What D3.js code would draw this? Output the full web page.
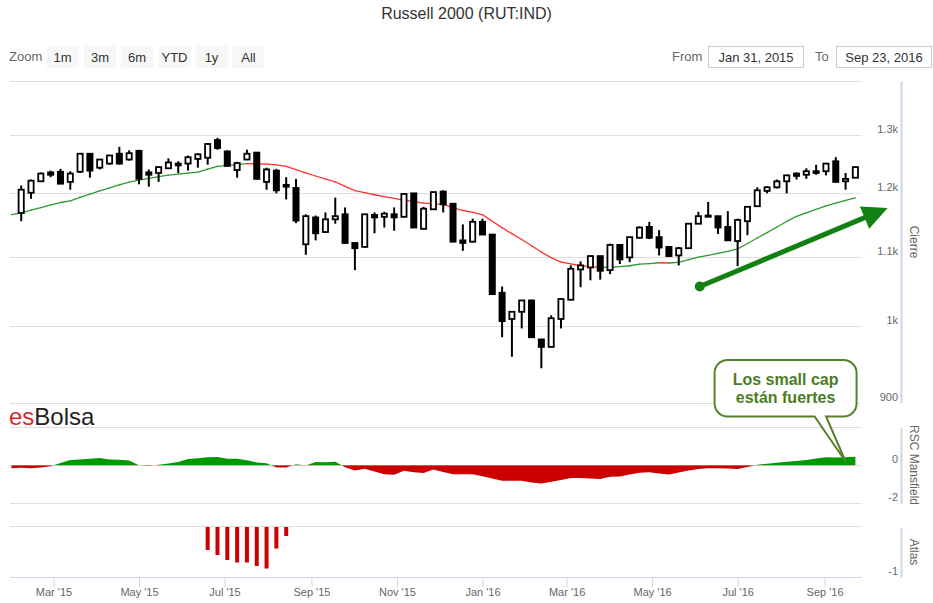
<!DOCTYPE html>
<html>
<head>
<meta charset="utf-8">
<script src="https://cdn.jsdelivr.net/npm/d3@7"></script>
<style>
  body { margin: 0; background: #fff; }
  svg { font-family: "Liberation Sans", Arial, sans-serif; }
</style>
</head>
<body>
<svg width="933" height="603"></svg>
<script>
// weekly candles (Fridays), Jan 30 2015 .. Sep 23 2016; index 0 only feeds the MA and RSC
const weeks = d3.timeFriday.range(new Date(2015, 0, 30), new Date(2016, 8, 24));
const candleDates = weeks.slice(1);

const open = [1168,1201,1220,1235,1236,1219,1236,1267,1243,1250,
  1267,1257,1272,1235,1234,1242,1250,1250,1258,1260,
  1291,1271,1239,1257,1269,1219,1238,1214,1209,1119,
  1161,1138,1158,1166,1121,1115,1165,1162,1166,1162,
  1200,1143,1174,1203,1183,1125,1123,1154,1134,1047,
  1010,1020,1036,982,972,1010,1037,1081,1084,1101,
  1080,1118,1099,1129,1146,1130,1115,1102,1113,1151,
  1164,1163,1146,1124,1155,1179,1204,1210,1220,1233,
  1231,1237,1237,1254,1220,1226];
const high = [1213,1223,1235,1238,1241,1237,1268,1268,1258,1265,
  1279,1273,1274,1240,1245,1259,1254,1264,1268,1286,
  1295,1273,1253,1274,1269,1243,1241,1227,1224,1166,
  1164,1169,1193,1177,1121,1166,1169,1170,1177,1200,
  1200,1178,1203,1205,1183,1150,1159,1159,1134,1056,
  1020,1036,1037,982,1015,1039,1087,1093,1102,1101,
  1120,1118,1130,1147,1154,1141,1115,1115,1152,1170,
  1186,1163,1171,1159,1178,1210,1212,1223,1231,1235,
  1242,1248,1250,1261,1234,1245];
const low = [1155,1191,1219,1227,1216,1206,1234,1226,1240,1248,
  1248,1255,1215,1211,1219,1241,1234,1238,1243,1248,
  1274,1245,1226,1256,1224,1206,1200,1190,1152,1103,
  1125,1137,1151,1120,1080,1114,1136,1145,1140,1161,
  1145,1142,1173,1169,1122,1109,1122,1134,1044,985,
  959,997,985,944,972,997,1037,1055,1065,1066,
  1074,1089,1092,1128,1127,1102,1101,1087,1112,1151,
  1162,1135,1125,1086,1133,1178,1200,1208,1200,1223,
  1224,1231,1230,1218,1206,1226];
const close = [1206,1221,1233,1231,1216,1233,1267,1238,1257,1264,
  1250,1268,1224,1231,1244,1252,1247,1261,1266,1284,
  1277,1246,1251,1267,1224,1240,1205,1211,1156,1163,
  1136,1158,1163,1121,1113,1166,1161,1167,1161,1199,
  1145,1175,1202,1182,1123,1121,1154,1134,1045,1007,
  1020,1036,985,972,1011,1038,1082,1087,1101,1079,
  1118,1096,1130,1145,1129,1114,1101,1113,1151,1163,
  1162,1145,1125,1157,1178,1205,1210,1220,1230,1229,
  1237,1234,1250,1219,1224,1244];

// 30-week moving average, one value per week (87)
const ma30 = [1165.4,1168.4,1172.6,1176.8,1181.0,1185.0,1187.6,1193.2,1198.7,1204.1,
  1209.1,1213.9,1218.8,1222.0,1224.9,1227.9,1230.4,1232.2,1233.9,1235.6,
  1240.4,1245.4,1247.0,1248.3,1249.9,1249.7,1249.2,1247.7,1245.2,1239.6,
  1234.2,1228.9,1224.0,1219.1,1211.5,1204.4,1201.1,1197.7,1194.6,1191.7,
  1188.9,1186.5,1184.1,1182.8,1182.1,1176.5,1172.1,1169.1,1165.5,1154.8,
  1144.8,1135.5,1126.4,1116.7,1107.1,1098.6,1091.9,1089.2,1086.5,1085.3,
  1084.1,1084.3,1085.2,1086.5,1088.8,1089.7,1091.0,1090.6,1091.5,1095.5,
  1099.4,1102.1,1105.0,1108.0,1112.0,1120.2,1128.6,1137.1,1145.8,1154.6,
  1162.6,1168.3,1173.9,1179.6,1184.0,1188.3,1192.5];

// RSC Mansfield, one value per week (87)
const rsc = [-0.15,-0.13,-0.16,-0.12,-0.05,0.12,0.28,0.31,0.34,0.39,
  0.31,0.29,0.25,0.0,-0.02,0.03,0.10,0.17,0.33,0.37,
  0.43,0.44,0.35,0.35,0.26,0.15,0.11,-0.11,-0.12,0.06,
  -0.01,0.17,0.16,0.19,-0.10,-0.27,-0.18,-0.33,-0.47,-0.50,
  -0.29,-0.36,-0.41,-0.22,-0.35,-0.47,-0.47,-0.47,-0.57,-0.69,
  -0.81,-0.81,-0.81,-0.91,-0.96,-0.87,-0.77,-0.67,-0.67,-0.70,
  -0.72,-0.60,-0.59,-0.48,-0.39,-0.37,-0.43,-0.49,-0.38,-0.28,
  -0.19,-0.16,-0.16,-0.17,-0.19,-0.09,0.03,0.08,0.14,0.19,
  0.23,0.28,0.36,0.42,0.41,0.42,0.45];

// Atlas bars
const atlasDates = ["2015-06-19","2015-06-26","2015-07-03","2015-07-10","2015-07-17",
  "2015-07-24","2015-07-31","2015-08-07","2015-08-14"];
const atlasValues = [-0.46,-0.56,-0.66,-0.71,-0.71,-0.78,-0.83,-0.43,-0.18];

const mainTicks = [900, 1000, 1100, 1200, 1300, 1400];
const mainTickLabels = ["900", "1k", "1.1k", "1.2k", "1.3k", ""];
const rscTicks = [-2, 0, 2];
const rscTickLabels = ["-2", "0", ""];
const atlasTicks = [-1, 0];
const atlasTickLabels = ["-1", ""];
const xTickDates = ["2015-03-01","2015-05-01","2015-07-01","2015-09-01","2015-11-01",
  "2016-01-01","2016-03-01","2016-05-01","2016-07-01","2016-09-01"];
const xTickLabels = ["Mar '15","May '15","Jul '15","Sep '15","Nov '15",
  "Jan '16","Mar '16","May '16","Jul '16","Sep '16"];
const zoomButtons = ["1m", "3m", "6m", "YTD", "1y", "All"];

const parse = d3.timeParse("%Y-%m-%d");
const svg = d3.select("svg");

const left = 10, right = 861;
const x = d3.scaleTime()
  .domain([new Date(2015, 0, 29), new Date(2016, 8, 27)])
  .range([left, right]);
const y = d3.scaleLog().domain([900, 1400]).range([403, 81]);
const yRsc = d3.scaleLinear().domain([-2, 2]).range([503.3, 427.3]);
const yAtlas = d3.scaleLinear().domain([-1, 0]).range([577, 527]);

const grid = "#dedede", axisBlue = "#ccd6eb", labelGrey = "#666";

// title
svg.append("text").attr("x", 466.5).attr("y", 19).attr("text-anchor", "middle")
  .attr("font-size", 16).attr("fill", "#333").text("Russell 2000 (RUT:IND)");

// range selector
svg.append("text").attr("x", 9).attr("y", 61).attr("font-size", 13)
  .attr("fill", labelGrey).text("Zoom");
const btnX = [46.5, 84, 121, 158.5, 195.5, 232.5];
const btn = svg.selectAll(".btn").data(zoomButtons).enter().append("g")
  .attr("transform", (d, i) => `translate(${btnX[i]},46)`);
btn.append("rect").attr("width", 32).attr("height", 22).attr("fill", "#f7f7f7");
btn.append("text").attr("x", 16).attr("y", 15.5).attr("text-anchor", "middle")
  .attr("font-size", 13).attr("fill", "#333").text(d => d);

svg.append("text").attr("x", 672).attr("y", 61).attr("font-size", 13)
  .attr("fill", labelGrey).text("From");
svg.append("text").attr("x", 815).attr("y", 61).attr("font-size", 13)
  .attr("fill", labelGrey).text("To");
[[708.5, "Jan 31, 2015"], [836.5, "Sep 23, 2016"]].forEach(([bx, t]) => {
  svg.append("rect").attr("x", bx).attr("y", 46.5).attr("width", 95).attr("height", 21)
    .attr("fill", "#fff").attr("stroke", "#ccc");
  svg.append("text").attr("x", bx + 47.5).attr("y", 61.5).attr("text-anchor", "middle")
    .attr("font-size", 13).attr("fill", "#333").text(t);
});

// gridlines
const gridG = svg.append("g").attr("stroke", grid).attr("stroke-width", 1);
mainTicks.forEach(t => gridG.append("line").attr("x1", left).attr("x2", right)
  .attr("y1", Math.round(y(t)) + 0.5).attr("y2", Math.round(y(t)) + 0.5));
rscTicks.forEach(t => gridG.append("line").attr("x1", left).attr("x2", right)
  .attr("y1", Math.round(yRsc(t)) + 0.5).attr("y2", Math.round(yRsc(t)) + 0.5));
gridG.append("line").attr("x1", left).attr("x2", right)
  .attr("y1", Math.round(yAtlas(0)) - 0.5).attr("y2", Math.round(yAtlas(0)) - 0.5);

// clip paths
const defs = svg.append("defs");
defs.append("clipPath").attr("id", "clipMain").append("rect")
  .attr("x", left).attr("y", 81).attr("width", right - left).attr("height", 322);
defs.append("clipPath").attr("id", "clipPos").append("rect")
  .attr("x", left).attr("y", 427).attr("width", right - left).attr("height", yRsc(0) - 427);
defs.append("clipPath").attr("id", "clipNeg").append("rect")
  .attr("x", left).attr("y", yRsc(0)).attr("width", right - left).attr("height", 503.3 - yRsc(0));

// moving average, green while rising, red while falling
const maPts = weeks.map((d, i) => ({ date: d, v: ma30[i] }));
svg.append("g").attr("clip-path", "url(#clipMain)")
  .selectAll("line").data(d3.pairs(maPts)).enter().append("line")
  .attr("x1", d => x(d[0].date)).attr("y1", d => y(d[0].v))
  .attr("x2", d => x(d[1].date)).attr("y2", d => y(d[1].v))
  .attr("stroke", d => d[1].v >= d[0].v ? "#2f9a2f" : "#ff3333")
  .attr("stroke-width", 1.3).attr("stroke-linecap", "round");

// candles
const candles = candleDates.map((d, i) => ({ date: d, o: open[i], h: high[i], l: low[i], c: close[i] }));
const cg = svg.append("g").attr("clip-path", "url(#clipMain)");
cg.selectAll(".wick").data(candles).enter().append("line")
  .attr("x1", d => x(d.date)).attr("x2", d => x(d.date))
  .attr("y1", d => y(d.h)).attr("y2", d => y(d.l))
  .attr("stroke", "#000").attr("stroke-width", 2);
cg.selectAll(".body").data(candles).enter().append("rect")
  .attr("x", d => x(d.date) - 2.6).attr("width", 5.2)
  .attr("y", d => y(Math.max(d.o, d.c)))
  .attr("height", d => Math.max(1, y(Math.min(d.o, d.c)) - y(Math.max(d.o, d.c))))
  .attr("fill", d => d.c >= d.o ? "#fff" : "#000")
  .attr("stroke", "#000").attr("stroke-width", 1.8);

// RSC Mansfield area
const rscPts = weeks.map((d, i) => ({ date: d, v: rsc[i] }));
const rscArea = d3.area().x(d => x(d.date)).y0(yRsc(0)).y1(d => yRsc(d.v));
svg.append("path").datum(rscPts).attr("d", rscArea).attr("fill", "#009900")
  .attr("clip-path", "url(#clipPos)");
svg.append("path").datum(rscPts).attr("d", rscArea).attr("fill", "#cc0000")
  .attr("clip-path", "url(#clipNeg)");

// Atlas bars
svg.append("g").selectAll("rect").data(atlasDates).enter().append("rect")
  .attr("x", d => x(parse(d)) - 2).attr("width", 4)
  .attr("y", yAtlas(0)).attr("height", (d, i) => yAtlas(atlasValues[i]) - yAtlas(0))
  .attr("fill", "#cc0000");

// x axis
const xAxis = svg.append("g").attr("transform", "translate(0,577)")
  .call(d3.axisBottom(x).tickValues(xTickDates.map(parse))
    .tickFormat((d, i) => xTickLabels[i]).tickSize(10).tickSizeOuter(0).tickPadding(1));
xAxis.select(".domain").attr("stroke", axisBlue);
xAxis.selectAll(".tick line").attr("stroke", axisBlue);
xAxis.selectAll("text").attr("fill", labelGrey).attr("font-size", 11)
  .attr("font-family", "Liberation Sans, Arial, sans-serif");

// right-hand y axes
function rightAxis(scale, ticks, labels, title, mid) {
  const a = svg.append("g").attr("transform", "translate(901,0)")
    .call(d3.axisLeft(scale).tickValues(ticks).tickFormat((d, i) => labels[i])
      .tickSize(0).tickSizeOuter(0).tickPadding(3));
  a.select(".domain").attr("stroke", axisBlue).attr("stroke-width", 2);
  a.selectAll("text").attr("y", -6).attr("fill", labelGrey).attr("font-size", 11)
    .attr("font-family", "Liberation Sans, Arial, sans-serif");
  svg.append("text").attr("transform", `translate(910,${mid}) rotate(90)`)
    .attr("text-anchor", "middle").attr("font-size", 12).attr("fill", labelGrey).text(title);
}
rightAxis(y, mainTicks, mainTickLabels, "Cierre", 242);
rightAxis(yRsc, rscTicks, rscTickLabels, "RSC Mansfield", 465);
rightAxis(yAtlas, atlasTicks, atlasTickLabels, "Atlas", 552);

// logo
const logo = svg.append("text").attr("x", 9).attr("y", 425).attr("font-size", 24);
logo.append("tspan").attr("fill", "#d42a2a").text("es");
logo.append("tspan").attr("fill", "#222").text("Bolsa");

// trend arrow
const aFrom = [x(parse("2016-06-04")), y(1056)];
const aTo = [x(parse("2016-10-16")), y(1176)];
const ang = Math.atan2(aTo[1] - aFrom[1], aTo[0] - aFrom[0]);
const headLen = 25, headHalf = 12;
const base = [aTo[0] - headLen * Math.cos(ang), aTo[1] - headLen * Math.sin(ang)];
const px = -Math.sin(ang) * headHalf, py = Math.cos(ang) * headHalf;
const arrowGreen = "#128012";
svg.append("line").attr("x1", aFrom[0]).attr("y1", aFrom[1])
  .attr("x2", base[0] + 2 * Math.cos(ang)).attr("y2", base[1] + 2 * Math.sin(ang))
  .attr("stroke", arrowGreen).attr("stroke-width", 5);
svg.append("circle").attr("cx", aFrom[0]).attr("cy", aFrom[1]).attr("r", 5).attr("fill", arrowGreen);
svg.append("path")
  .attr("d", `M${aTo[0]},${aTo[1]}L${base[0] + px},${base[1] + py}L${base[0] - px},${base[1] - py}Z`)
  .attr("fill", arrowGreen);

// callout pointing at the RSC area
const tip = [x(weeks[85]), yRsc(0.2)];
const bx0 = tip[0] - 131, bx1 = tip[0] + 11, by0 = tip[1] - 101.5, by1 = tip[1] - 45, r = 13;
svg.append("path")
  .attr("d", `M${bx0 + r},${by0}H${bx1 - r}A${r},${r} 0 0 1 ${bx1},${by0 + r}V${by1 - r}` +
    `A${r},${r} 0 0 1 ${bx1 - r},${by1}H${tip[0] - 19.5}L${tip[0]},${tip[1]}L${tip[0] - 31},${by1}` +
    `H${bx0 + r}A${r},${r} 0 0 1 ${bx0},${by1 - r}V${by0 + r}A${r},${r} 0 0 1 ${bx0 + r},${by0}Z`)
  .attr("fill", "#fff").attr("stroke", "#58802f").attr("stroke-width", 2);
const callout = svg.append("text").attr("text-anchor", "middle").attr("font-size", 16)
  .attr("font-weight", "bold").attr("fill", "#4b7d23");
callout.append("tspan").attr("x", tip[0] - 60).attr("y", tip[1] - 76.5).text("Los small cap");
callout.append("tspan").attr("x", tip[0] - 60).attr("y", tip[1] - 58.5).text("están fuertes");
</script>
</body>
</html>
